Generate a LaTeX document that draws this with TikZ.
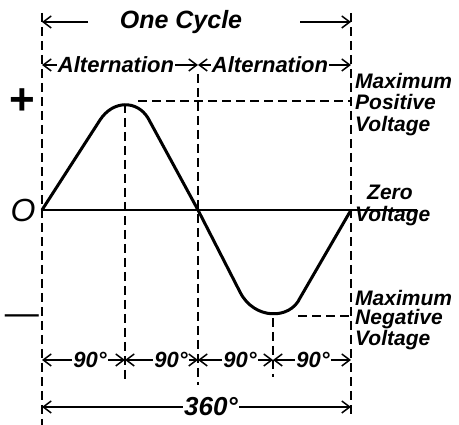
\documentclass[tikz,border=0pt]{standalone}
\usepackage{fontspec}
\setmainfont{Liberation Sans}
\usepackage{tikz}
\usetikzlibrary{arrows.meta}
\tikzset{every node/.append style={font=\bfseries\itshape\fontsize{22}{22}\selectfont, inner sep=1pt}}
\tikzset{
  guide/.style={dash pattern=on 9pt off 5pt, line width=1.6pt},
  wave/.style={line width=3pt, line join=round},
  dim/.style={-{Straight Barb[length=8pt,width=12pt]}, line width=1.5pt},
  sign/.style={font=\bfseries\fontsize{44}{44}\selectfont},
  lbl/.style={anchor=north west, align=left, font=\bfseries\itshape\fontsize{21}{21.5}\selectfont}
}

\begin{document}
\begin{tikzpicture}[x=1pt, y=-1pt]
    \useasboundingbox (0,0) rectangle (459,425);
    % dashed guides
    \draw[guide] (42,13) -- (42,425);
    \draw[guide] (125,104) -- (125,382);
    \draw[guide] (198,74) -- (198,385);
    \draw[guide] (273,318) -- (273,377);
    \draw[guide] (351,13) -- (351,415);
    \draw[guide] (138,101) -- (351,101);
    \draw[guide] (298,316) -- (351,316);
    % zero line and wave
    \draw[line width=1.8pt] (42,210) -- (417,210);
    \draw[wave] (42,210) -- (100,120) .. controls (113,100) and (137,100) .. (148,118)
        -- (198,210) -- (240,292) .. controls (254,320) and (290,320) .. (300,298) -- (351,210);
    % signs on the left
    \node[sign] (plus) at (22,102) {+};
    \node[font=\itshape\fontsize{32}{32}\selectfont] (zero) at (23,210) {O};
    \node[sign, font=\fontsize{34}{34}\selectfont] (minus) at (22,320) {—};
    % one cycle
    \node[font=\bfseries\itshape\fontsize{25}{25}\selectfont] (cycle) at (181,22) {One Cycle};
    \coordinate (cycL) at (42,22);
    \coordinate (cycR) at (351,22);
    \coordinate (cycA) at (88,22);
    \coordinate (cycB) at (300,22);
    \draw[dim] (cycA) -- (cycL);
    \draw[dim] (cycB) -- (cycR);
    % alternations
    \node (alt1) at (116,65) {Alternation};
    \node (alt2) at (270,65) {Alternation};
    \coordinate (altL) at (42,65);
    \coordinate (altM) at (198,65);
    \coordinate (altR) at (351,65);
    \draw[dim] (alt1.west) -- (altL);
    \draw[dim] (alt1.east) -- (altM);
    \draw[dim] (alt2.west) -- (altM);
    \draw[dim] (alt2.east) -- (altR);
    % quarter cycles
    \node (d1) at (90,360) {90°};
    \node (d2) at (171,360) {90°};
    \node (d3) at (240,360) {90°};
    \node (d4) at (313,360) {90°};
    \coordinate (q0) at (42,360);
    \coordinate (q1) at (125,360);
    \coordinate (q2) at (198,360);
    \coordinate (q3) at (273,360);
    \coordinate (q4) at (351,360);
    \draw[dim] (d1.west) -- (q0);
    \draw[dim] (d1.east) -- (q1);
    \draw[dim] (d2.west) -- (q1);
    \draw[dim] (d2.east) -- (q2);
    \draw[dim] (d3.west) -- (q2);
    \draw[dim] (d3.east) -- (q3);
    \draw[dim] (d4.west) -- (q3);
    \draw[dim] (d4.east) -- (q4);
    % full cycle
    \node[font=\bfseries\itshape\fontsize{26}{26}\selectfont] (full) at (211,407) {360°};
    \coordinate (r0) at (42,407);
    \coordinate (r4) at (351,407);
    \draw[dim] (full.west) -- (r0);
    \draw[dim] (full.east) -- (r4);
    % labels on the right
    \node[lbl] (maxpos) at (354,72) {Maximum\\Positive\\Voltage};
    \node[lbl] (zerov) at (354,184) {\hspace{12pt}Zero\\Voltage};
    \node[lbl, font=\bfseries\itshape\fontsize{21}{19.5}\selectfont] (maxneg) at (354,289) {Maximum\\Negative\\Voltage};
\end{tikzpicture}
\end{document}
